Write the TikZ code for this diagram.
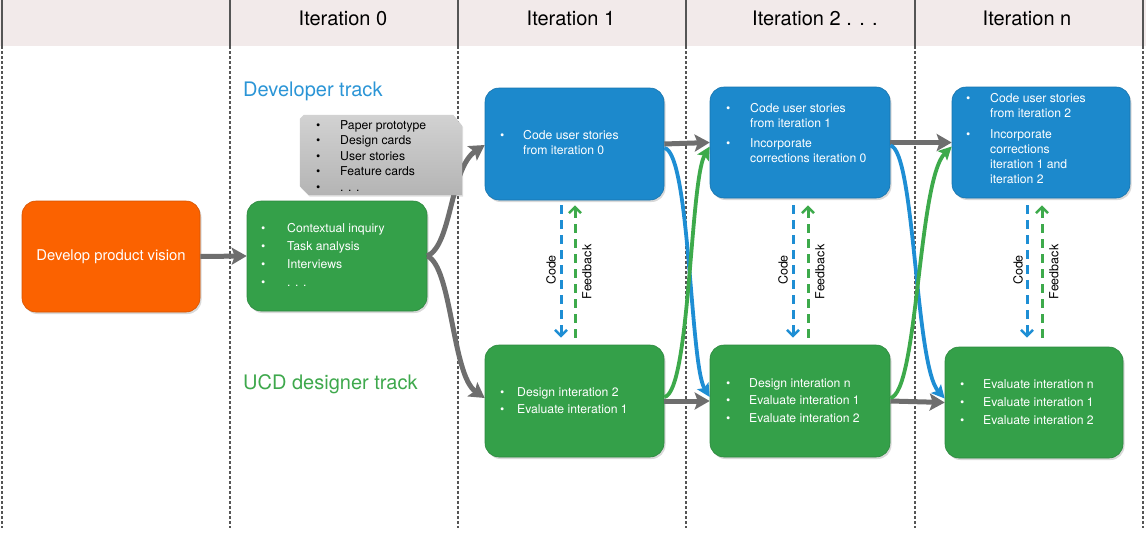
\documentclass[tikz,border=0pt]{standalone}
\usepackage{fontspec}
\setmainfont{TeX Gyre Heros}
\usetikzlibrary{arrows.meta,shadows}
\definecolor{orng}{HTML}{FB6200}
\definecolor{grnbox}{HTML}{34A049}
\definecolor{blubox}{HTML}{1C89CC}
\definecolor{arrblue}{HTML}{1E8ED4}
\definecolor{arrgreen}{HTML}{3DAA4B}
\definecolor{arrgray}{HTML}{6E6E6E}
\definecolor{hdr}{HTML}{F2EAEA}
\definecolor{vline}{HTML}{555555}
\definecolor{txtblue}{HTML}{2B95D6}
\definecolor{txtgreen}{HTML}{3EA84C}
\definecolor{cardtop}{HTML}{D2D2D2}
\definecolor{cardbot}{HTML}{B4B4B4}
\newcommand\blist[2]{\begin{tabular}[t]{@{}p{#1}@{}l@{}}#2\end{tabular}}
\newcommand\bul{\textbullet}
\begin{document}
\begin{tikzpicture}[x=1pt,y=-1pt,
  pbox/.style={rounded corners=14pt, inner sep=0pt, draw=#1!85!black, line width=.6pt, fill=#1,
     drop shadow={shadow xshift=1.5pt, shadow yshift=-2pt, opacity=.3}},
  lst/.style={anchor=base west, inner sep=0pt, text=white, font=\fontsize{12.2}{15}\selectfont},
  hd/.style={inner sep=0pt, font=\fontsize{20}{24}\selectfont},
  track/.style={anchor=base west, inner sep=0pt, font=\fontsize{20}{24}\selectfont},
  vsolid/.style={draw=vline, line width=1.5pt},
  vdash/.style={draw=vline, line width=1.4pt, dash pattern=on 3pt off 2pt},
  garr/.style={draw=arrgray, line width=5pt, -{Stealth[length=15pt,width=17pt,inset=3pt]}},
  barr/.style={draw=arrblue, line width=3.8pt, -{Stealth[length=13pt,width=13pt,inset=2.5pt]}},
  gnarr/.style={draw=arrgreen, line width=3.8pt, -{Stealth[length=13pt,width=13pt,inset=2.5pt]}},
  dblue/.style={draw=arrblue, line width=3pt, dash pattern=on 9pt off 6pt, -{Straight Barb[length=6pt,width=12pt,line width=2.6pt]}},
  dgreen/.style={draw=arrgreen, line width=3pt, dash pattern=on 9pt off 6pt, -{Straight Barb[length=6pt,width=12pt,line width=2.6pt]}},
  rlab/.style={rotate=90, inner sep=0pt, font=\fontsize{12.5}{14}\selectfont}
]
\useasboundingbox (0,0) rectangle (1146,541);
\fill[hdr] (0,0) rectangle (1146,46);
\foreach \x in {2,230,458,686,915,1143} {
  \draw[vsolid] (\x,0) -- (\x,46);
  \draw[vdash] (\x,46) -- (\x,528);
}
% headers
\node[hd] (h0) at (343,18) {Iteration 0};
\node[hd] (h1) at (571,18) {Iteration 1};
\node[hd] (h2) at (815,18) {Iteration 2 . . .};
\node[hd] (hn) at (1027,18) {Iteration n};
% track labels
\node[track, text=txtblue] (devtrack) at (243,96) {Developer track};
\node[track, text=txtgreen] (ucdtrack) at (243,389) {UCD designer track};

% boxes
\node[pbox=orng, minimum width=178pt, minimum height=111pt, text=white, font=\fontsize{14.8}{17}\selectfont] (o) at (111,256.5) {Develop product vision};
\node[pbox=grnbox, minimum width=180pt, minimum height=110pt] (g0) at (337,256) {};
\node[pbox=blubox, minimum width=179pt, minimum height=112pt] (b1) at (574.5,144) {};
\node[pbox=grnbox, minimum width=179pt, minimum height=112pt] (g1) at (574.5,401) {};
\node[pbox=blubox, minimum width=180pt, minimum height=111pt] (b2) at (800,142.5) {};
\node[pbox=grnbox, minimum width=180pt, minimum height=112pt] (g2) at (800,401) {};
\node[pbox=blubox, minimum width=178pt, minimum height=111pt] (b3) at (1041,142.5) {};
\node[pbox=grnbox, minimum width=178pt, minimum height=111pt] (g3) at (1034,402.5) {};

% box texts
\node[lst] (g0t) at (261,232) {\blist{26pt}{\bul & Contextual inquiry\\[3pt] \bul & Task analysis\\[3pt] \bul & Interviews\\[3pt] \bul & . . .}};
\node[lst] (b1t) at (500,139) {\blist{23pt}{\bul & Code user stories\\ & from iteration 0}};
\node[lst] (g1t) at (500,396) {\blist{17pt}{\bul & Design interation 2\\[2pt] \bul & Evaluate interation 1}};
\node[lst] (b2t) at (726,112) {\blist{24pt}{\bul & Code user stories\\ & from iteration 1\\[5pt] \bul & Incorporate\\ & corrections iteration 0}};
\node[lst] (g2t) at (726,387) {\blist{23pt}{\bul & Design interation n\\[2.5pt] \bul & Evaluate interation 1\\[2.5pt] \bul & Evaluate interation 2}};
\node[lst] (b3t) at (966,102) {\blist{24pt}{\bul & Code user stories\\ & from iteration 2\\[6pt] \bul & Incorporate\\ & corrections\\ & iteration 1 and\\ & iteration 2}};
\node[lst] (g3t) at (960,388) {\blist{23pt}{\bul & Evaluate interation n\\[3pt] \bul & Evaluate interation 1\\[3pt] \bul & Evaluate interation 2}};

% gray arrows
\draw[garr] (o.east) -- (g0.west);
\draw[garr] (b1.east) -- (b2.west);
\draw[garr] (g1.east) -- (g2.west);
\draw[garr] (b2.east) -- (b3.west);
\draw[garr] (g2.east) -- (g3.west);
\draw[garr] (g0.east) .. controls (452,245) and (450,168) .. ([yshift=-1pt]b1.west);
\draw[garr] (g0.east) .. controls (452,267) and (452,375) .. ([yshift=3pt]g1.west);

% crossing arrows
\draw[barr] ([yshift=-4pt]b1.east) .. controls (690,152) and (690,365) .. ([yshift=4pt]g2.west);
\draw[gnarr] ([yshift=4pt]g1.east) .. controls (690,393) and (690,180) .. ([yshift=-4pt]b2.west);
\draw[barr] ([yshift=-3pt]b2.east) .. controls (915,150) and (915,365) .. ([yshift=4pt]g3.west);
\draw[gnarr] ([yshift=3pt]g2.east) .. controls (918,393) and (918,180) .. ([yshift=-4pt]b3.west);

% code / feedback
\draw[dblue] ([xshift=-13.5pt,yshift=-5pt]b1.south) -- ([xshift=-13.5pt,yshift=7pt]g1.north);
\draw[dgreen] ([xshift=0.5pt,yshift=7pt]g1.north) -- ([xshift=0.5pt,yshift=-5pt]b1.south);
\node[rlab] (c1) at (551,270) {Code};
\node[rlab] (f1) at (587,272) {Feedback};
\draw[dblue] ([xshift=-7pt,yshift=-7pt]b2.south) -- ([xshift=-7pt,yshift=7pt]g2.north);
\draw[dgreen] ([xshift=8pt,yshift=7pt]g2.north) -- ([xshift=8pt,yshift=-7pt]b2.south);
\node[rlab] (c2) at (783,270) {Code};
\node[rlab] (f2) at (820,272) {Feedback};
\draw[dblue] ([xshift=-14pt,yshift=-7pt]b3.south) -- ([xshift=-7pt,yshift=9pt]g3.north);
\draw[dgreen] ([xshift=8pt,yshift=9pt]g3.north) -- ([xshift=1pt,yshift=-7pt]b3.south);
\node[rlab] (c3) at (1018,270) {Code};
\node[rlab] (f3) at (1054,272) {Feedback};

% gray card
\node[inner sep=0pt, minimum width=162pt, minimum height=80pt] (cards) at (381,155) {};
\path[top color=cardtop, bottom color=cardbot, drop shadow={shadow xshift=1pt, shadow yshift=-1.5pt, opacity=.25}]
  ([xshift=4pt]cards.north west) -- ([xshift=-9pt]cards.north east) -- ([yshift=-11pt]cards.north east)
  -- (cards.south east) -- ([xshift=9pt]cards.south west) -- ([yshift=9pt]cards.south west)
  -- ([yshift=-4pt]cards.north west) -- cycle;
\node[lst, text=black, font=\fontsize{12.2}{15.5}\selectfont] (cardt) at (316,129) {\blist{24pt}{\bul & Paper prototype\\ \bul & Design cards\\ \bul & User stories\\ \bul & Feature cards\\ \bul & . . .}};
\end{tikzpicture}
\end{document}
